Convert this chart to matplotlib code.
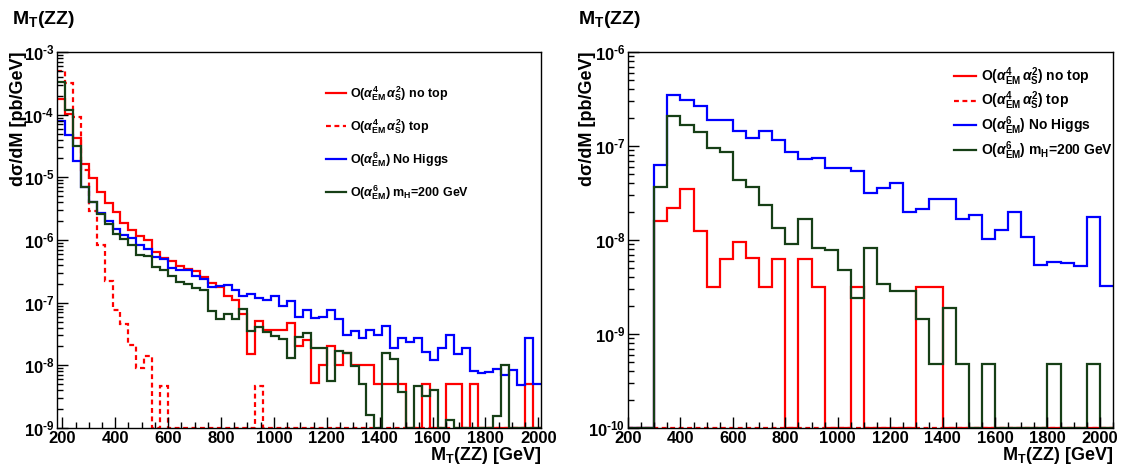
import numpy as np
import matplotlib
matplotlib.use('Agg')
import matplotlib.pyplot as plt
from matplotlib.ticker import MultipleLocator, LogLocator, FuncFormatter, NullFormatter

plt.rcParams['font.family'] = ['Liberation Sans', 'DejaVu Sans']
plt.rcParams['font.weight'] = 'bold'
plt.rcParams['mathtext.fontset'] = 'custom'
plt.rcParams['mathtext.rm'] = 'Liberation Sans:bold'
plt.rcParams['mathtext.bf'] = 'Liberation Sans:bold'
plt.rcParams['mathtext.it'] = 'Liberation Sans:bold:italic'
plt.rcParams['mathtext.default'] = 'bf'

# binning (GeV)
left_lo, left_width, left_nbins = 180, 30, 61
right_lo, right_width, right_nbins = 200, 50, 37

# left panel: d sigma / dM [pb/GeV], one value per bin
noTop_L = [1.80e-4, 1.01e-4, 4.2e-5, 1.62e-5, 9.7e-6, 5.9e-6, 3.86e-6, 2.8e-6, 1.89e-6, 1.43e-6,
           1.15e-6, 9.9e-7, 6.4e-7, 5.1e-7, 4.6e-7, 3.9e-7, 3.4e-7, 3.2e-7, 2.6e-7, 2.05e-7,
           1.75e-7, 1.27e-7, 1.10e-7, 6.5e-8, 1.52e-8, 5.1e-8, 3.7e-8, 3.66e-8, 3.6e-8, 4.7e-8,
           2.06e-8, 2.5e-8, 5.3e-9, 1.02e-8, 2.0e-8, 1.02e-8, 1.58e-8, 1.02e-8, 1.02e-8, 1.02e-8,
           5.1e-9, 5.1e-9, 5.1e-9, 5.1e-9, 0, 0, 5.1e-9, 0, 0, 5.1e-9,
           5.1e-9, 0, 5.1e-9, 0, 0, 0, 0, 0, 0, 5.1e-9,
           0]
top_L = [4.93e-4, 3.21e-4, 9.2e-5, 1.32e-5, 2.91e-6, 8.2e-7, 2.21e-7, 7.5e-8, 4.5e-8, 2.14e-8,
         9.1e-9, 1.39e-8, 0, 4.6e-9, 0, 0, 0, 0, 0, 0,
         0, 0, 0, 0, 0, 4.6e-9, 0, 0, 0, 0,
         0, 0, 0, 0, 0, 0, 0, 0, 0, 0,
         0, 0, 0, 0, 0, 0, 0, 0, 0, 0,
         0, 0, 0, 0, 0, 0, 0, 0, 0, 0,
         0]
noHiggs_L = [7.8e-5, 4.7e-5, 1.84e-5, 6.9e-6, 4.06e-6, 2.67e-6, 2.01e-6, 1.48e-6, 1.22e-6, 1.09e-6,
             8.4e-7, 7.1e-7, 5.35e-7, 5.0e-7, 3.6e-7, 3.27e-7, 3.35e-7, 2.65e-7, 2.35e-7, 1.77e-7,
             1.84e-7, 1.93e-7, 1.62e-7, 1.30e-7, 1.38e-7, 1.17e-7, 1.10e-7, 1.27e-7, 8.9e-8, 1.07e-7,
             5.8e-8, 7.7e-8, 5.6e-8, 5.9e-8, 7.5e-8, 5.4e-8, 3.1e-8, 3.5e-8, 2.74e-8, 3.7e-8,
             3.06e-8, 4.2e-8, 1.89e-8, 2.74e-8, 2.33e-8, 2.74e-8, 1.63e-8, 1.2e-8, 1.89e-8, 3.1e-8,
             1.52e-8, 1.89e-8, 8.0e-9, 7.5e-9, 7.8e-9, 8.7e-9, 7.1e-9, 8.5e-9, 4.9e-9, 2.74e-8,
             5.0e-9]
mH200_L = [3.37e-4, 1.2e-4, 3.2e-5, 6.9e-6, 4.06e-6, 2.58e-6, 1.80e-6, 1.23e-6, 1.02e-6, 8.2e-7,
           5.8e-7, 5.5e-7, 3.7e-7, 3.3e-7, 2.65e-7, 2.13e-7, 1.98e-7, 1.73e-7, 1.58e-7, 7.3e-8,
           5.4e-8, 6.5e-8, 5.4e-8, 7.8e-8, 3.5e-8, 4.1e-8, 3.4e-8, 2.9e-8, 2.6e-8, 1.29e-8,
           2.84e-8, 3.3e-8, 1.87e-8, 1.89e-8, 5.7e-9, 1.67e-8, 1.58e-8, 9.6e-9, 5.0e-9, 1.6e-9,
           0, 1.55e-8, 1.26e-8, 3.8e-9, 0, 4.7e-9, 3.2e-9, 4.0e-9, 0, 1.35e-9,
           0, 0, 0, 0, 0, 1.57e-9, 1.02e-8, 0, 0, 0,
           0]

# right panel
noTop_R = [0, 0, 1.59e-8, 2.17e-8, 3.47e-8, 1.25e-8, 3.2e-9, 6.28e-9, 9.44e-9, 6.43e-9,
           3.15e-9, 6.28e-9, 0, 6.28e-9, 3.15e-9, 0, 0, 3.2e-9, 0, 0,
           0, 0, 3.2e-9, 3.2e-9, 0, 0, 0, 0, 0, 0,
           0, 0, 0, 0, 0, 0, 0]
top_R = [0] * 37
noHiggs_R = [0, 0, 6.3e-8, 3.5e-7, 3.1e-7, 2.66e-7, 1.91e-7, 1.87e-7, 1.46e-7, 1.21e-7,
             1.44e-7, 1.16e-7, 8.6e-8, 7.24e-8, 7.48e-8, 5.8e-8, 5.85e-8, 5.48e-8, 3.14e-8, 3.61e-8,
             4.02e-8, 1.97e-8, 2.12e-8, 2.71e-8, 2.71e-8, 1.69e-8, 1.83e-8, 1.02e-8, 1.27e-8, 1.99e-8,
             1.07e-8, 5.37e-9, 5.87e-9, 5.69e-9, 5.24e-9, 1.75e-8, 3.26e-9]
mH200_R = [0, 0, 3.64e-8, 2.11e-7, 1.69e-7, 1.40e-7, 9.48e-8, 8.6e-8, 4.32e-8, 3.64e-8,
           2.36e-8, 1.35e-8, 9.14e-9, 1.69e-8, 8.28e-9, 7.76e-9, 4.79e-9, 2.41e-9, 8.28e-9, 3.37e-9,
           2.88e-9, 2.88e-9, 1.45e-9, 4.8e-10, 1.91e-9, 4.8e-10, 0, 4.8e-10, 0, 0,
           0, 0, 4.8e-10, 0, 0, 4.8e-10, 0]

labels = [r'O($\mathit{\alpha}^{4}_{EM}\,\mathit{\alpha}^{2}_{S}$) no top',
          r'O($\mathit{\alpha}^{4}_{EM}\,\mathit{\alpha}^{2}_{S}$) top',
          r'O($\mathit{\alpha}^{6}_{EM}$) No Higgs',
          r'O($\mathit{\alpha}^{6}_{EM}$) m$_{H}$=200 GeV']
colors = ['#ff0000', '#ff0000', '#0000ff', '#163f16']
styles = ['-', (0, (2.2, 1.6)), '-', '-']

W, H = 1121, 466
fig = plt.figure(figsize=(W / 100, H / 100), dpi=100)


def decade(v, pos):
    e = int(round(np.log10(v)))
    return r'$\mathbf{10^{\text{-}%d}}$' % abs(e) if e < 0 else r'$\mathbf{10^{%d}}$' % e


def make_panel(rect, lo, width, nbins, series, ylims, legend_pos, legend_fs, legend_space):
    ax = fig.add_axes(rect)
    edges = lo + width * np.arange(nbins + 1)
    ymin = ylims[0]
    for vals, col, ls, lab in zip(series, colors, styles, labels):
        v = np.array(vals, dtype=float)
        v[v <= 0] = ymin  # empty bins sit on the axis, as in ROOT
        ax.stairs(v, edges, baseline=None, color=col, lw=1.6, ls=ls, label=lab)
    ax.set_yscale('log')
    ax.set_xlim(edges[0], edges[-1])
    ax.set_ylim(*ylims)
    ax.set_xticks(np.arange(200, edges[-1] + 1, 200))
    ax.xaxis.set_minor_locator(MultipleLocator(50))
    e0, e1 = int(round(np.log10(ylims[0]))), int(round(np.log10(ylims[1])))
    ax.set_yticks(10.0 ** np.arange(e0, e1 + 1))
    ax.yaxis.set_minor_locator(LogLocator(base=10, subs=np.arange(2, 10), numticks=20))
    ax.yaxis.set_major_formatter(FuncFormatter(decade))
    ax.yaxis.set_minor_formatter(NullFormatter())
    ax.tick_params(which='both', direction='in', top=False, right=False, labelsize=12, width=1)
    ax.tick_params(which='major', length=8, pad=2)
    ax.tick_params(which='minor', length=4)
    for s in ax.spines.values():
        s.set_linewidth(1.0)
    ax.legend(loc='upper left', bbox_to_anchor=legend_pos, frameon=False, fontsize=legend_fs,
              handlelength=1.6, handletextpad=0.35, labelspacing=legend_space,
              borderpad=0, borderaxespad=0)
    return ax


axL = make_panel([57 / W, 1 - 428 / H, 484 / W, 376 / H], left_lo, left_width, left_nbins,
                 [noTop_L, top_L, noHiggs_L, mH200_L], (1e-9, 1e-3), (0.555, 0.915), 9, 1.16)
axR = make_panel([628 / W, 1 - 428 / H, 485 / W, 376 / H], right_lo, right_width, right_nbins,
                 [noTop_R, top_R, noHiggs_R, mH200_R], (1e-10, 1e-6), (0.672, 0.965), 10, 0.15)

for x0, axr in [(12, 541), (578, 1113)]:
    fig.text(x0 / W, 1 - 20 / H, r'$\mathbf{M_{T}}$(ZZ)', fontsize=14, ha='left', va='center')
    fig.text(axr / W, 1 - 456 / H, r'$\mathbf{M_{T}}$(ZZ) [GeV]', fontsize=13, ha='right', va='center')
fig.text(19 / W, 1 - 51 / H, 'd\u03c3/dM [pb/GeV]', fontsize=13, rotation=90, ha='center', va='top')
fig.text(587 / W, 1 - 51 / H, 'd\u03c3/dM [pb/GeV]', fontsize=13, rotation=90, ha='center', va='top')

fig.savefig('out.png', dpi=100)
